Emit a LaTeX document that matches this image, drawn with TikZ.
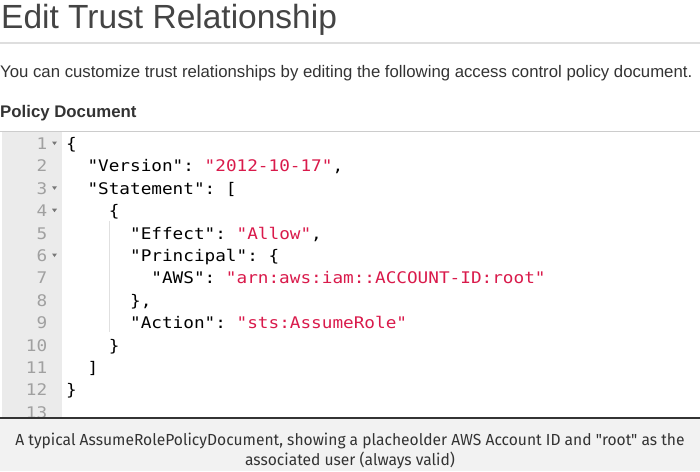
\documentclass[tikz,border=0pt]{standalone}
\usepackage{fontspec}
\setmainfont{Liberation Sans}
\newfontfamily\codefont{DejaVu Sans Mono}[FakeStretch=1.106]
\newfontfamily\capfont{Fira Sans}[FakeStretch=0.975]
\definecolor{titlegray}{HTML}{444444}
\definecolor{textgray}{HTML}{333333}
\definecolor{strred}{HTML}{D91A4B}
\definecolor{guttergray}{HTML}{EBEBEB}
\definecolor{numgray}{HTML}{A0A0A0}
\definecolor{foldgray}{HTML}{777777}
\definecolor{capbg}{HTML}{F2F2F2}
\newcommand{\str}[1]{\textcolor{strred}{#1}}
\frenchspacing
\tikzset{
  txt/.style={inner sep=0pt, anchor=base west},
  titletext/.style={txt, text=titlegray, font=\fontsize{33.5}{40}\selectfont},
  desctext/.style={txt, text=textgray, font=\fontsize{16.75}{20}\selectfont},
  headtext/.style={txt, text=textgray, font=\fontsize{16.8}{20}\selectfont\bfseries},
  codeline/.style={txt, text=black, font=\codefont\fontsize{16}{20}\selectfont\frenchspacing},
  lineno/.style={inner sep=0pt, anchor=base east, text=numgray, font=\codefont\fontsize{16}{20}\selectfont},
  captext/.style={inner sep=0pt, anchor=base, text=textgray, font=\capfont\fontsize{16}{20}\selectfont},
}
\begin{document}
\begin{tikzpicture}[x=1pt,y=-1pt]
\useasboundingbox (0,0) rectangle (700,471);
% title
\node[titletext] (title) at (1,28) {Edit Trust Relationship};
\draw[draw=black!13, line width=1.2pt] (0,43) -- (700,43);
\node[desctext] (desc) at (0,77.3) {You can customize trust relationships by editing the following access control policy document.};
\node[headtext] (head) at (0,117.7) {Policy Document};
% editor
\fill[guttergray] (2,131) rectangle (62,418);
\draw[draw=black!20, line width=1pt] (0,131) -- (700,131);
\draw[draw=black!12, line width=0.8pt] (109,221) -- (109,332);
% line numbers
\foreach \i in {1,...,13}{
  \node[lineno] (n\i) at (47.5,{149.5+22.4*(\i-1)}) {\i};
}
\foreach \i in {1,3,4,6}{
  \fill[foldgray] (52,{149.5+22.4*(\i-1)-8}) -- (57,{149.5+22.4*(\i-1)-8}) -- (54.5,{149.5+22.4*(\i-1)-4.5}) -- cycle;
}
% code
\node[codeline] (c1) at (66,149.5) {\{};
\node[codeline] (c2) at (87.3,171.9) {"Version": \str{"2012-10-17"},};
\node[codeline] (c3) at (87.3,194.3) {"Statement": [};
\node[codeline] (c4) at (108.6,216.7) {\{};
\node[codeline] (c5) at (129.9,239.1) {"Effect": \str{"Allow"},};
\node[codeline] (c6) at (129.9,261.5) {"Principal": \{};
\node[codeline] (c7) at (151.2,283.9) {"AWS": \str{"arn:aws:iam::ACCOUNT-ID:root"}};
\node[codeline] (c8) at (129.9,306.3) {\},};
\node[codeline] (c9) at (129.9,328.7) {"Action": \str{"sts:AssumeRole"}};
\node[codeline] (c10) at (108.6,351.1) {\}};
\node[codeline] (c11) at (87.3,373.5) {]};
\node[codeline] (c12) at (66,395.9) {\}};
% caption
\fill[capbg] (0,418) rectangle (700,471);
\draw[draw=textgray, line width=1.6pt] (0,418) -- (700,418);
\node[captext] (cap1) at (350,445) {A typical AssumeRolePolicyDocument, showing a placheolder AWS Account ID and "root" as the};
\node[captext] (cap2) at (350,465) {associated user (always valid)};
\end{tikzpicture}
\end{document}
